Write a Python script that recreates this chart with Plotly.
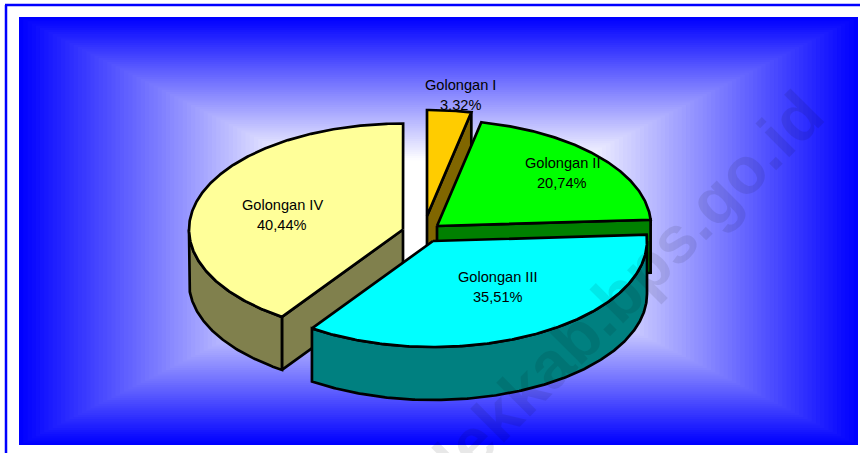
import math
import plotly.graph_objects as go

categories = ["Golongan I", "Golongan II", "Golongan III", "Golongan IV"]
values = [3.32, 20.74, 35.51, 40.44]
top_colors = ["#FFCC00", "#00FF00", "#00FFFF", "#FFFF99"]
side_colors = ["#806600", "#008000", "#008080", "#80804D"]
centers = [(427, 216), (437, 226), (433, 241), (403, 229.5)]
label_pos = [(460, 85), (562, 163), (498, 277), (282, 205)]
draw_order = [0, 1, 3, 2]
watermark = "lekkab.bps.go.id"

RX, RY, DEPTH = 214, 106, 53
W, H = 860, 453
GX0, GX1, GY0, GY1 = 19, 858, 17, 445
BANDS = 100


def rim(c, a):
    r = math.radians(a)
    return c[0] + RX * math.sin(r), c[1] - RY * math.cos(r)


def arc(c, a0, a1):
    n = max(2, int(abs(a1 - a0) * 2))
    return [rim(c, a0 + (a1 - a0) * i / n) for i in range(n + 1)]


fig = go.Figure()


def poly(points, fill, width=2.7):
    xs = [p[0] for p in points] + [points[0][0]]
    ys = [p[1] for p in points] + [points[0][1]]
    fig.add_trace(go.Scatter(x=xs, y=ys, mode="lines", fill="toself", fillcolor=fill,
                             line=dict(color="black", width=width), hoverinfo="skip",
                             showlegend=False))


# slice angles, clockwise from 12 o'clock
spans = []
start = 0.0
for v in values:
    spans.append((start, start + v * 3.6))
    start += v * 3.6

for idx in draw_order:
    a0, a1 = spans[idx]
    c = centers[idx]
    top, side = top_colors[idx], side_colors[idx]
    # flat cut faces turned towards the viewer
    if idx in (0, 1):
        r = rim(c, a1)
        poly([c, r, (r[0], r[1] + DEPTH), (c[0], c[1] + DEPTH)], side)
    if idx == 3:
        r = rim(c, a0)
        poly([c, r, (r[0], r[1] + DEPTH), (c[0], c[1] + DEPTH)], side)
    # outer rim, front half only
    f0, f1 = max(a0, 90), min(a1, 270)
    if f1 > f0:
        pts = arc(c, f0, f1)
        poly(pts + [(x, y + DEPTH) for x, y in reversed(pts)], side)
    # top face
    poly([c] + arc(c, a0, a1), top)

shapes = [
    dict(type="line", x0=6, x1=6, y0=5, y1=H, line=dict(color="#0000FF", width=2.5)),
    dict(type="line", x0=5, x1=W, y0=5, y1=5, line=dict(color="#0000FF", width=2.5)),
]
cx, cy = (GX0 + GX1) / 2, (GY0 + GY1) / 2
for i in range(BANDS):
    t = 1 - i / BANDS
    f = min(1.0, 1.5 * (1 - t))
    g = int(round(255 * f))
    shapes.append(dict(type="rect", layer="below",
                       x0=cx - (GX1 - GX0) / 2 * t, x1=cx + (GX1 - GX0) / 2 * t,
                       y0=cy - (GY1 - GY0) / 2 * t, y1=cy + (GY1 - GY0) / 2 * t,
                       fillcolor=f"rgb({g},{g},255)", line=dict(width=0)))

annotations = []
for name, val, pos in zip(categories, values, label_pos):
    for text, dy in ((name, 0), (f"{val:.2f}".replace(".", ",") + "%", 20)):
        annotations.append(dict(x=pos[0], y=pos[1] + dy, text=text, showarrow=False,
                                xanchor="center", yanchor="middle",
                                font=dict(family="Liberation Sans, Arial", size=14.6, color="black")))
annotations.append(dict(x=628, y=286, text=f"<b>{watermark}</b>", showarrow=False, textangle=-45,
                        xanchor="center", yanchor="middle",
                        font=dict(family="Liberation Sans, Arial", size=66, color="rgba(0,0,0,0.09)")))

fig.update_layout(
    width=W, height=H, margin=dict(l=0, r=0, t=0, b=0), paper_bgcolor="white", plot_bgcolor="white",
    xaxis=dict(range=[0, W], visible=False, fixedrange=True),
    yaxis=dict(range=[H, 0], visible=False, fixedrange=True),
    shapes=shapes, annotations=annotations, showlegend=False,
)
fig.write_html("out.html", config={"displayModeBar": False},
               post_script="document.body.style.margin='0';document.body.style.overflow='hidden';")
